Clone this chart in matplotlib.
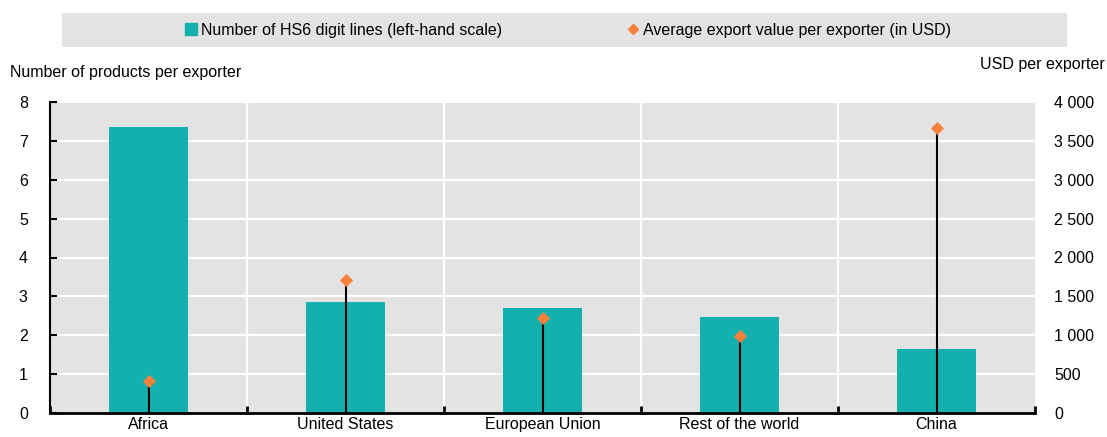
import numpy as np
import matplotlib.pyplot as plt
from matplotlib.patches import Rectangle
from matplotlib.lines import Line2D
from matplotlib.ticker import FuncFormatter

plt.rcParams['font.family'] = ['Liberation Sans', 'DejaVu Sans']

# ============== data
regions = ["Africa", "United States", "European Union", "Rest of the world", "China"]
products_per_exporter = [7.36, 2.86, 2.70, 2.46, 1.65]
usd_per_exporter = [412, 1711, 1226, 994, 3670]

teal = '#14b0ae'
orange = '#f5813a'
bg = '#e3e3e3'

fig = plt.figure(figsize=(11.07, 4.37), dpi=100)
W, H = 1107, 437
ax = fig.add_axes([50 / W, 1 - 413 / H, (1035 - 50) / W, (413 - 102) / H])
ax2 = ax.twinx()

x = np.arange(len(regions))
ax.bar(x, products_per_exporter, width=0.4, color=teal, zorder=3)
ax.set_xlim(-0.5, len(regions) - 0.5)
ax.set_ylim(0, 8)
ax.set_yticks(range(0, 9))
ax.set_facecolor(bg)

# white grid, vertical lines on category boundaries
for yy in range(1, 9):
    ax.axhline(yy, color='white', lw=1.5, zorder=1)
for b in np.arange(0.5, len(regions) - 0.5, 1):
    ax.axvline(b, color='white', lw=1.5, zorder=1)

ax2.set_ylim(0, 4000)
ax2.set_yticks(range(0, 4001, 500))
ax2.yaxis.set_major_formatter(FuncFormatter(lambda v, p: "{:,}".format(int(v)).replace(",", " ")))
ax2.vlines(x, 0, usd_per_exporter, color='black', lw=1.5, zorder=4)
ax2.scatter(x, usd_per_exporter, marker='D', s=45, color=orange, zorder=5, linewidths=0)

for a in (ax, ax2):
    for s in ('top', 'right'):
        a.spines[s].set_visible(False)
ax2.spines['left'].set_visible(False)
ax2.spines['bottom'].set_visible(False)
ax.spines['left'].set_linewidth(1.5)
ax.spines['left'].set_zorder(6)
ax.spines['bottom'].set_linewidth(2)
ax.spines['bottom'].set_zorder(6)

ax.set_xticks(x)
ax.set_xticklabels(regions, fontsize=11.5)
ax.tick_params(axis='x', length=0, pad=3)
ax.set_xticks(np.arange(-0.5, len(regions), 1), minor=True)
ax.tick_params(axis='x', which='minor', direction='in', length=5, width=2, color='black')
ax.tick_params(axis='y', direction='in', length=5, width=1.5, pad=16, labelsize=11.5)
ax2.tick_params(axis='y', length=0, pad=14, labelsize=11.5)

fig.text(10 / W, 1 - 73 / H, "Number of products per exporter", fontsize=11.5, va='center', ha='left')
fig.text(1105 / W, 1 - 65 / H, "USD per exporter", fontsize=11.5, va='center', ha='right')

# legend band
fig.patches.append(Rectangle((62 / W, 1 - 47 / H), (1067 - 62) / W, 34 / H,
                             transform=fig.transFigure, facecolor=bg, edgecolor='none'))
handles = [Line2D([], [], marker='s', ls='', color=teal, markersize=8),
           Line2D([], [], marker='D', ls='', color=orange, markersize=5)]
fig.legend(handles, ["Number of HS6 digit lines (left-hand scale)",
                     "Average export value per exporter (in USD)"],
           loc='center', bbox_to_anchor=(567 / W, 1 - 30 / H), ncol=2, frameon=False,
           fontsize=11.5, handletextpad=0.1, handlelength=1.0, columnspacing=7.7)

fig.savefig('out.png', dpi=100)
